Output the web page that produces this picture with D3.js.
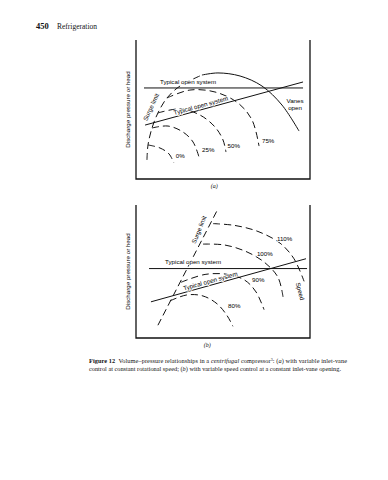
<!DOCTYPE html>
<html>
<head>
<meta charset="utf-8">
<script src="https://cdn.jsdelivr.net/npm/d3@7"></script>
<style>
  body, html { margin:0; padding:0; background:#fff; overflow:hidden; }
  svg { display:block; }
  .lbl { font-family:"Liberation Sans", Arial, sans-serif; font-size:6.2px; fill:#000;
         stroke:#fff; stroke-width:1.6px; paint-order:stroke; stroke-linejoin:round; }
  .serif { font-family:"Liberation Serif", "Times New Roman", serif; fill:#111; }
  .curve { fill:none; stroke:#111; stroke-width:1; }
  .dash { stroke-dasharray:7,4; }
</style>
</head>
<body>
<svg id="chart" width="388" height="480"></svg>
<script>
// ---- panel (a): inlet vane control, flow/pressure in % of box ----
var surgeA   = [[6.3,13.7],[6.9,24.5],[9.2,36.7],[12.6,47.5],[17.8,58.3],[25.3,66.9],[37.9,74.8]];
var vanesOpenA = [[37.9,74.8],[47.1,76.3],[59.8,74.1],[72.4,66.9],[83.9,53.2],[93.7,34.5]];
var vane75 = [[17.8,58.3],[31.0,64.0],[45.4,62.6],[58.6,54.7],[66.7,42.4],[70.7,23.7]];
var vane50 = [[12.6,47.5],[25.3,50.4],[36.8,46.0],[45.4,37.4],[50.0,28.1],[51.7,19.4]];
var vane25 = [[9.2,36.7],[18.4,38.1],[27.0,33.8],[32.8,26.6],[36.2,15.8]];
var vane0  = [[6.9,24.5],[13.8,22.3],[19.0,18.0],[21.8,11.5]];
var flatSysA  = [[4.6,65.5],[96,65.5]];
var slopeSysA = [[5.2,38.8],[96,69.8]];
var pctLabelsA = [["0%",22.9,15.1],["25%",38.0,19.4],["50%",52.6,22.3],["75%",72.4,25.9]];

// ---- panel (b): variable speed ----
var surgeB = [[12.6,9.6],[47.1,97.1]];
var speed110 = [[44.3,86.0],[56.9,84.6],[70.1,80.1],[82.8,71.3],[90.8,59.6],[96.6,42.6]];
var speed100 = [[38.5,70.6],[51.1,69.9],[63.8,64.7],[74.1,56.6],[81.6,45.6],[84.5,30.9]];
var speed90  = [[25.9,41.9],[39.7,47.8],[52.9,47.8],[62.6,43.4],[69.0,34.6],[73.6,21.3]];
var speed80  = [[19.5,27.9],[29.3,32.4],[38.5,31.6],[46.6,25.7],[52.3,16.9],[55.7,8.8]];
var flatSysB  = [[7.5,52.2],[98.3,52.2]];
var slopeSysB = [[8.6,27.2],[97.7,59.6]];
var pctLabelsB = [["110%",81.0,72.8],["100%",69.5,61.8],["90%",66.7,41.9],["80%",52.9,22.8]];

var svg = d3.select("#chart");

function panel(top, bottom, name, nameAt) {
  var x = d3.scaleLinear().domain([0,100]).range([136,310]);
  var y = d3.scaleLinear().domain([0,100]).range([bottom, top]);
  var g = svg.append("g");
  // frame, open at the top
  g.append("path")
    .attr("d", "M"+x(0)+","+y(100)+"V"+y(0)+"H"+x(100)+"V"+y(100))
    .attr("fill","none").attr("stroke","#111").attr("stroke-width",1.3);
  g.append("text").attr("class","lbl")
    .attr("transform","translate(130,"+((top+bottom)/2)+") rotate(-90)")
    .attr("text-anchor","middle").text("Discharge pressure or head");
  g.append("text").attr("class","serif")
    .attr("x", x(nameAt)).attr("y", bottom+9).attr("font-size",6).attr("font-style","italic")
    .attr("text-anchor","middle").text(name);
  var line = d3.line().x(function(d){return x(d[0]);}).y(function(d){return y(d[1]);})
    .curve(d3.curveCatmullRom.alpha(0.5));
  return {g:g, x:x, y:y, line:line};
}

function draw(p, pts, dashed) {
  p.g.append("path").datum(pts).attr("class", "curve" + (dashed ? " dash" : ""))
    .attr("d", p.line);
}

function label(p, txt, dx, dy, rot, anchor) {
  p.g.append("text").attr("class","lbl")
    .attr("transform","translate("+p.x(dx)+","+p.y(dy)+") rotate("+(rot||0)+")")
    .attr("text-anchor", anchor || "start").text(txt);
}

function slopeLabel(p, seg, t) {
  var x1 = p.x(seg[0][0]), y1 = p.y(seg[0][1]), x2 = p.x(seg[1][0]), y2 = p.y(seg[1][1]);
  var ang = Math.atan2(y2-y1, x2-x1) * 180 / Math.PI;
  var cx = x1 + (x2-x1)*t, cy = y1 + (y2-y1)*t;
  p.g.append("text").attr("class","lbl")
    .attr("transform","translate("+cx+","+cy+") rotate("+ang+") translate(0,-2)")
    .attr("text-anchor","middle").text("Typical open system");
}

// header
svg.append("text").attr("class","serif").attr("x",36).attr("y",29)
  .attr("font-size",8.5).attr("font-weight","bold").text("450");
svg.append("text").attr("class","serif").attr("x",57).attr("y",29)
  .attr("font-size",7.5).text("Refrigeration");

// (a)
var a = panel(40, 179, "(a)", 45);
[vane0, vane25, vane50, vane75, surgeA].forEach(function(c){ draw(a, c, true); });
draw(a, vanesOpenA, false);
draw(a, flatSysA, false);
draw(a, slopeSysA, false);
label(a, "Typical open system", 13.8, 68.3);
slopeLabel(a, slopeSysA, 0.36);
label(a, "Surge limit", 9.8, 51.1, -65, "middle");
label(a, "Vanes", 91.4, 54.5, 0, "middle");
label(a, "open", 91.4, 49.5, 0, "middle");
pctLabelsA.forEach(function(d){ label(a, d[0], d[1], d[2]); });

// (b)
var b = panel(205, 338, "(b)", 41);
[speed80, speed90, speed100, speed110, surgeB].forEach(function(c){ draw(b, c, true); });
draw(b, flatSysB, false);
draw(b, slopeSysB, false);
label(b, "Typical open system", 16.7, 55.9);
slopeLabel(b, slopeSysB, 0.39);
label(b, "Surge limit", 37.4, 80.9, -68, "middle");
label(b, "Speed", 93.1, 34.6, 75, "middle");
pctLabelsB.forEach(function(d){ label(b, d[0], d[1], d[2]); });

// caption
var cap = svg.append("text").attr("class","serif").attr("font-size",6.3);
cap.append("tspan").attr("x",89).attr("y",363).attr("textLength",258).attr("lengthAdjust","spacing")
  .html('<tspan font-weight="bold">Figure 12</tspan>\u2002Volume\u2013pressure relationships in a <tspan font-style="italic">centrifugal</tspan> compressor<tspan baseline-shift="super" font-size="4">3</tspan>: (<tspan font-style="italic">a</tspan>) with variable inlet-vane');
cap.append("tspan").attr("x",89).attr("y",371)
  .html('control at constant rotational speed; (<tspan font-style="italic">b</tspan>) with variable speed control at a constant inlet-vane opening.');
</script>
</body>
</html>
